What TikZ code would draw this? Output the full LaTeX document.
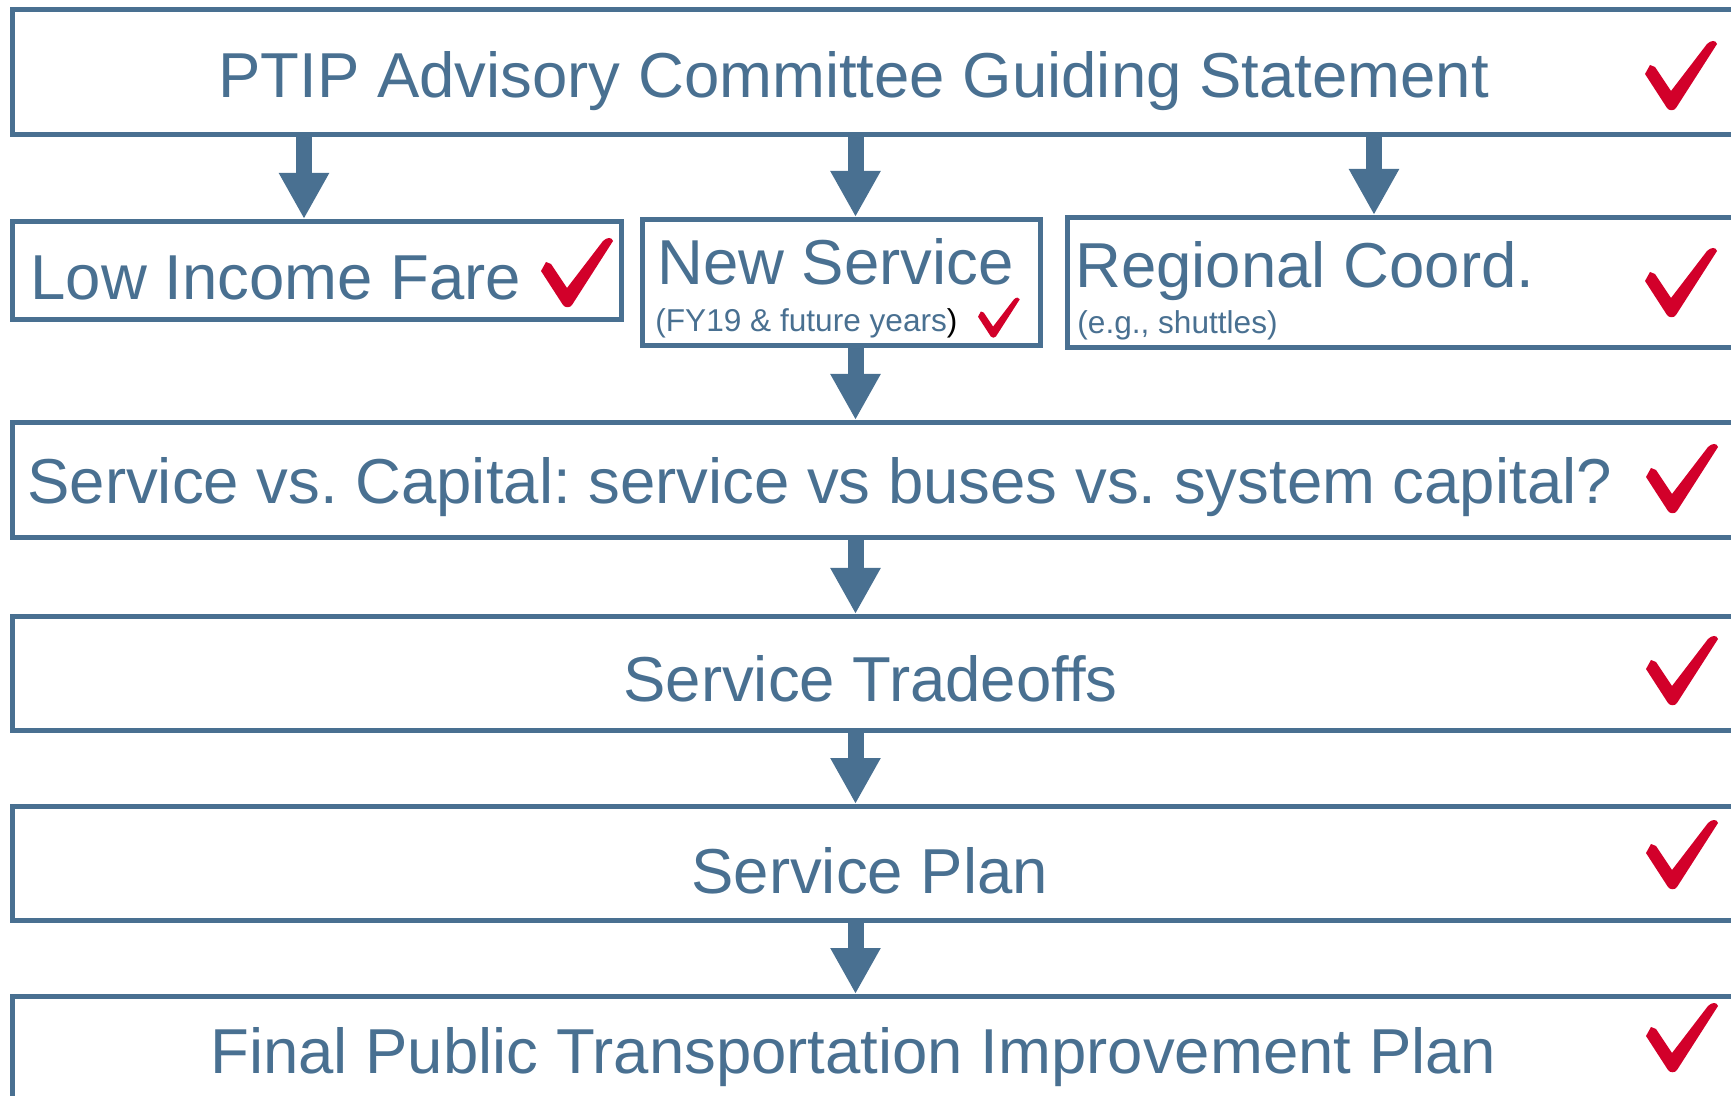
\documentclass[tikz,border=0pt]{standalone}
\usepackage{fontspec}
\setmainfont{Liberation Sans}
\frenchspacing
\usetikzlibrary{arrows.meta,positioning}
\definecolor{ptipblue}{RGB}{73,112,145}
\definecolor{tickred}{RGB}{210,0,42}

\tikzset{
  checkmark/.pic={
    \fill[tickred] (0,34) -- (5,25) -- (10,27) -- (26,51) -- (62,4)
      .. controls (66,0) and (71,0) .. (72,4) -- (31,68)
      .. controls (29,71) and (24,71) .. (22,68) -- cycle;
  }
}

\begin{document}
\begin{tikzpicture}[x=0.5pt,y=-0.5pt,
  box/.style={draw=ptipblue,line width=2.5pt,rectangle,anchor=north west,inner sep=0pt},
  lbl/.style={text=ptipblue,font=\fontsize{31.75}{38}\selectfont,anchor=base west,inner sep=0pt},
  sublbl/.style={text=ptipblue,font=\fontsize{15.8}{19}\selectfont,anchor=base west,inner sep=0pt},
  flow/.style={draw=ptipblue,line width=8pt,-{Triangle[width=23.5pt,length=23pt]}}]
  \useasboundingbox (0,0) rectangle (1731,1096);
  \clip (0,0) rectangle (1731,1096);
  \node[box,minimum width=893.75pt,minimum height=62.25pt] (Title) at (10,7.5) {};
  \node[box,minimum width=304.25pt,minimum height=49pt] (LowIncome) at (10,219) {};
  \node[box,minimum width=199pt,minimum height=63pt] (NewService) at (639.5,217) {};
  \node[box,minimum width=366.5pt,minimum height=65pt] (Regional) at (1064.5,215) {};
  \node[box,minimum width=893.75pt,minimum height=57.5pt] (Capital) at (10,420) {};
  \node[box,minimum width=893.75pt,minimum height=57pt] (Tradeoffs) at (10,614) {};
  \node[box,minimum width=893.75pt,minimum height=57pt] (ServicePlan) at (10,804) {};
  \node[box,minimum width=893.75pt,minimum height=62pt] (FinalPlan) at (10,994) {};
  %
  \node[lbl] (TitleText) at (218,98) {PTIP Advisory Committee Guiding Statement};
  \node[lbl] (LowIncomeText) at (30,300) {Low Income Fare};
  \node[lbl] (NewServiceText) at (657,285) {New Service};
  \node[sublbl] (NewServiceSub) at (655,332) {(FY19 \& future years\textcolor{black}{)}};
  \node[lbl] (RegionalText) at (1075,288) {Regional Coord.};
  \node[sublbl] (RegionalSub) at (1077,334) {(e.g., shuttles)};
  \node[lbl] (CapitalText) at (27,504) {Service vs. Capital: service vs buses vs. system capital?};
  \node[lbl] (TradeoffsText) at (623,702) {Service Tradeoffs};
  \node[lbl] (ServicePlanText) at (691,893) {Service Plan};
  \node[lbl] (FinalPlanText) at (210,1073) {Final Public Transportation Improvement Plan};
  %
  \pic (TitleTick) at (1645,40) {checkmark};
  \pic (LowIncomeTick) at (541,237) {checkmark};
  \pic[scale=0.58] (NewServiceTick) at (978,297) {checkmark};
  \pic (RegionalTick) at (1645,247) {checkmark};
  \pic (CapitalTick) at (1646,443) {checkmark};
  \pic (TradeoffsTick) at (1646,635) {checkmark};
  \pic (ServicePlanTick) at (1646,819) {checkmark};
  \pic (FinalPlanTick) at (1646,1002) {checkmark};
  %
  \coordinate (LeftLine) at (304,0);
  \coordinate (MidLine) at (855.5,0);
  \coordinate (RightLine) at (1374,0);
  \draw[flow] (Title.south -| LeftLine) -- (LowIncome.north -| LeftLine);
  \draw[flow] (Title.south -| MidLine) -- (NewService.north -| MidLine);
  \draw[flow] (Title.south -| RightLine) -- (Regional.north -| RightLine);
  \draw[flow] (NewService.south -| MidLine) -- (Capital.north -| MidLine);
  \draw[flow] (Capital.south -| MidLine) -- (Tradeoffs.north -| MidLine);
  \draw[flow] (Tradeoffs.south -| MidLine) -- (ServicePlan.north -| MidLine);
  \draw[flow] (ServicePlan.south -| MidLine) -- (FinalPlan.north -| MidLine);
\end{tikzpicture}
\end{document}
